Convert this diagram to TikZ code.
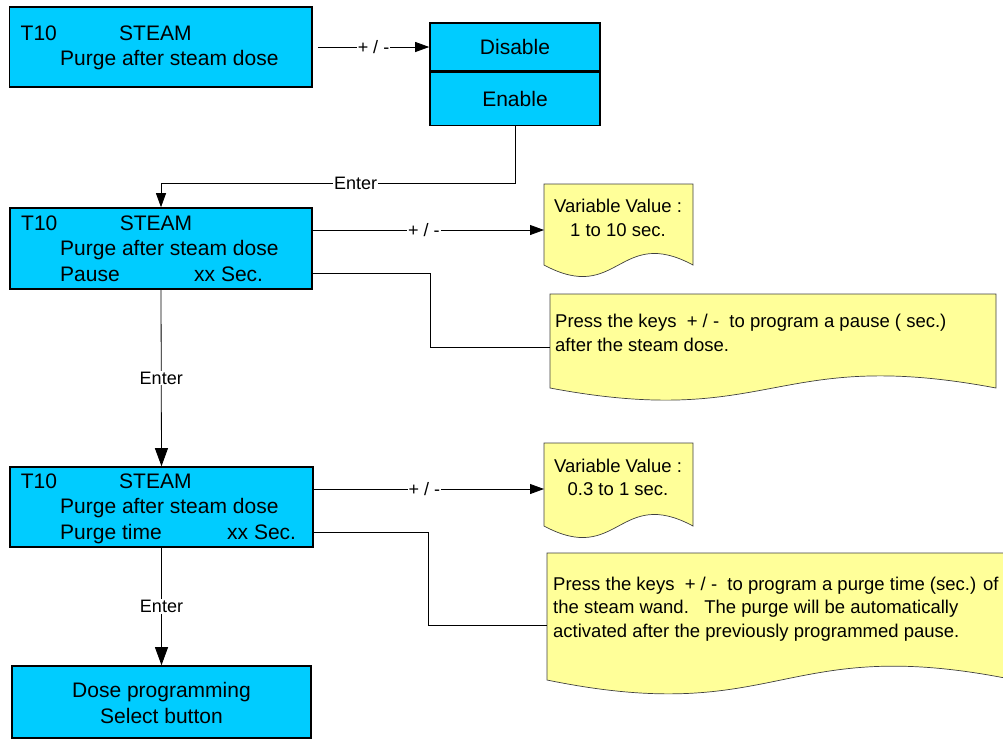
\documentclass[tikz,border=0pt]{standalone}
\usepackage{fontspec}
\setmainfont{Liberation Sans}
\usetikzlibrary{arrows.meta}
\definecolor{boxblue}{HTML}{00CCFF}
\definecolor{noteyellow}{HTML}{FFFF99}
\begin{document}
\begin{tikzpicture}[x=1pt,y=-1pt,
  bluebox/.style={draw=black, line width=1.6pt, fill=boxblue, inner sep=0pt, font=\fontsize{21}{25}\selectfont},
  btxt/.style={anchor=base west, inner sep=0pt, font=\fontsize{21}{25}\selectfont},
  ctxt/.style={anchor=base, inner sep=0pt, font=\fontsize{21}{25}\selectfont},
  notebase/.style={inner sep=0pt, outer sep=0pt},
  notefill/.style={fill=noteyellow, draw=black!75, line width=0.7pt},
  ntxt/.style={anchor=base west, inner sep=0pt, font=\fontsize{18.5}{22}\selectfont},
  nctxt/.style={anchor=base, inner sep=0pt, font=\fontsize{18.5}{22}\selectfont},
  lbl/.style={fill=white, inner sep=1pt, font=\fontsize{18}{20}\selectfont},
  conn/.style={line width=0.8pt},
  arr/.style={conn, -{Triangle[length=14pt,width=10pt]}},
  bigarr/.style={conn, -{Triangle[length=18pt,width=13pt]}}]
\useasboundingbox (0,0) rectangle (1003,740);

% notes
\node[notebase, minimum width=149pt, minimum height=81pt] (n1) at (618.5,224.5) {};
\draw[notefill] (n1.south west) -- (n1.north west) -- (n1.north east) -- (n1.south east)
  .. controls ([yshift=40pt]n1.south) and ([yshift=-40pt]n1.south) .. (n1.south west) -- cycle;
\node[nctxt] (n1a) at (618,212.7) {Variable Value :};
\node[nctxt] (n1b) at (618,236) {1 to 10 sec.};

\node[notebase, minimum width=446pt, minimum height=94pt] (n2) at (773,341) {};
\draw[notefill] (n2.south west) -- (n2.north west) -- (n2.north east) -- (n2.south east)
  .. controls ([yshift=42pt]n2.south) and ([yshift=-42pt]n2.south) .. (n2.south west) -- cycle;
\node[ntxt] (n2a) at (555,327.7) {Press the keys~~+ / -~~to program a pause ( sec.)};
\node[ntxt] (n2b) at (555,351) {after the steam dose.};

\node[notebase, minimum width=149pt, minimum height=83pt] (n3) at (618.5,484.5) {};
\draw[notefill] (n3.south west) -- (n3.north west) -- (n3.north east) -- (n3.south east)
  .. controls ([yshift=40pt]n3.south) and ([yshift=-40pt]n3.south) .. (n3.south west) -- cycle;
\node[nctxt] (n3a) at (618,472) {Variable Value :};
\node[nctxt] (n3b) at (618,495) {0.3 to 1 sec.};

\node[notebase, minimum width=468pt, minimum height=127pt] (n4) at (781,616.5) {};
\draw[notefill] (n4.south west) -- (n4.north west) -- (n4.north east) -- (n4.south east)
  .. controls ([yshift=48pt]n4.south) and ([yshift=-48pt]n4.south) .. (n4.south west) -- cycle;
\node[ntxt] (n4a) at (553,590) {Press the keys~~+ / -~~to program a purge time (sec.) of};
\node[ntxt] (n4b) at (553,613) {the steam wand.~~~The purge will be automatically};
\node[ntxt] (n4c) at (553,637) {activated after the previously programmed pause.};

% blue boxes
\node[bluebox, minimum width=302.5pt, minimum height=80pt] (b1) at (160.75,47) {};
\node[btxt] (b1a) at (20.5,40) {T10};
\node[btxt] (b1b) at (119,40) {STEAM};
\node[btxt] (b1c) at (60,65) {Purge after steam dose};

\node[bluebox, minimum width=170pt, minimum height=48pt] (dis) at (515,47) {Disable};
\node[bluebox, minimum width=170pt, minimum height=53pt, anchor=north] (en) at (dis.south) {Enable};

\node[bluebox, minimum width=302pt, minimum height=81pt] (b2) at (161,248.5) {};
\node[btxt] (b2a) at (21,230) {T10};
\node[btxt] (b2b) at (119.6,230) {STEAM};
\node[btxt] (b2c) at (60,255) {Purge after steam dose};
\node[btxt] (b2d) at (60,281) {Pause};
\node[btxt] (b2e) at (194,281) {xx Sec.};

\node[bluebox, minimum width=303pt, minimum height=80pt] (b3) at (161.5,507) {};
\node[btxt] (b3a) at (20.7,488) {T10};
\node[btxt] (b3b) at (119,488) {STEAM};
\node[btxt] (b3c) at (60,513) {Purge after steam dose};
\node[btxt] (b3d) at (60,539) {Purge time};
\node[btxt] (b3e) at (227,539) {xx Sec.};

\node[bluebox, minimum width=299pt, minimum height=72pt] (b4) at (161.5,702) {};
\node[ctxt] (b4a) at (161.5,697) {Dose programming};
\node[ctxt] (b4b) at (161.5,723) {Select button};

% connectors
\draw[arr] ([xshift=5pt]b1.east) -- node[lbl,pos=0.5]{+ / -} (dis.west);

\coordinate (c1) at (515,183);
\draw[arr] (en.south) -- (c1) -- node[lbl,pos=0.45]{Enter} (c1 -| b2.north) -- (b2.north);

\coordinate (p2) at ([yshift=18.5pt]b2.east);
\draw[arr] (p2) -- node[lbl,pos=0.48]{+ / -} (p2 -| n1.west);
\coordinate (q2) at ([yshift=-24.5pt]b2.east);
\coordinate (k2) at (430,347);
\draw[conn] (q2) -| (k2) -- (k2 -| n2.west);

\draw[bigarr] (b2.south) -- node[lbl,pos=0.5]{Enter} (b3.north);

\coordinate (p3) at ([yshift=18pt]b3.east);
\draw[arr] (p3) -- node[lbl,pos=0.48]{+ / -} (p3 -| n3.west);
\coordinate (q3) at ([yshift=-25pt]b3.east);
\coordinate (k3) at (428,625);
\draw[conn] (q3) -| (k3) -- (k3 -| n4.west);

\draw[bigarr] (b3.south) -- node[lbl,pos=0.5]{Enter} (b4.north);
\end{tikzpicture}
\end{document}
